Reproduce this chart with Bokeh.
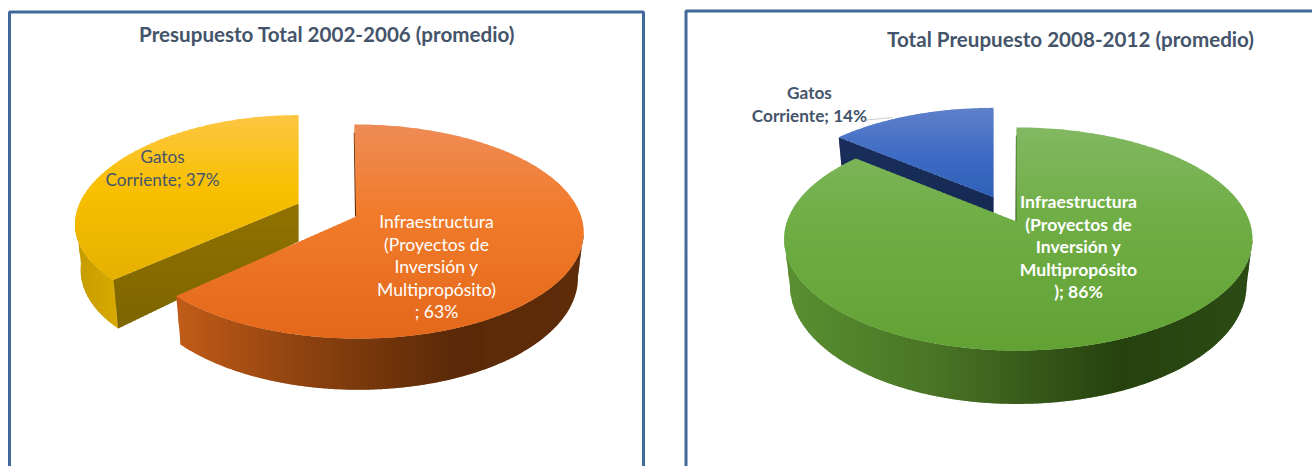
import math

from bokeh.core.properties import value
from bokeh.embed import file_html
from bokeh.models import ColumnDataSource, Range1d
from bokeh.plotting import figure
from bokeh.resources import INLINE

# Budget shares, in percent, for the two periods
titles = ["Presupuesto Total 2002-2006 (promedio)", "Total Preupuesto 2008-2012 (promedio)"]
infra_shares = [63, 86]
current_shares = [37, 14]
current_names = ["Gatos", "Gatos"]
infra_lines = [
    ["Infraestructura", "(Proyectos de", "Inversión y", "Multipropósito)", "; {}%"],
    ["Infraestructura", "(Proyectos de", "Inversión y", "Multipropósito", "); {}%"],
]

TEXT = "#44546a"
FRAME = "#41699b"
FONT = "Lato"

# Pie layout, in page pixels: apex of each slice, radii, perspective, depth
pies = [
    dict(
        infra=dict(ax=355.6, ay=216, rx=225, ry=105, p=0.14, px=0.14, left=1, sy=1, lean=-2),
        current=dict(ax=298, ay=203, rx=219, ry=105, p=0.14, px=0.2, left=1, sy=0.96, lean=0),
        depth=44, apex_depth=38, taper=0.975,
        infra_top=[(0, "#ee8c56"), (0.4, "#f17c2c"), (1, "#e4681a")],
        infra_wall=[(176, "#c25c18"), (300, "#8f4310"), (450, "#5c2a08"), (583, "#5f2c0a")],
        infra_face="#5c2a08",
        current_top=[(0, "#fdc644"), (0.45, "#f8c000"), (1, "#e6b000")],
        current_wall=[(75, "#c49a00"), (116, "#d8aa00")],
        current_face=[(0, "#907200"), (1, "#7e6500")],
    ),
    dict(
        infra=dict(ax=1016, ay=221, rx=233, ry=108.8, p=0.157, px=0.157, left=0.985, sy=1, lean=0),
        current=dict(ax=993, ay=196.7, rx=221, ry=108.8, p=0.157, px=0.157, left=1, sy=0.95, lean=0),
        depth=45, apex_depth=38, taper=0.975,
        infra_top=[(0, "#82b862"), (0.4, "#70ae46"), (1, "#62a234")],
        infra_wall=[(784, "#5a9032"), (930, "#4a7526"), (1120, "#26420f"), (1252, "#2c4c14")],
        infra_face="#2c4c14",
        current_top=[(0, "#5f80ca"), (0.55, "#3d6bc4"), (1, "#3060b6")],
        current_wall=[(837, "#182c58"), (994, "#182c58")],
        current_face=[(0, "#1a2f5c"), (1, "#152853")],
    ),
]

# Label anchors: centre x, first-line y, line step
title_pos = [(326.5, 33), (1070, 38)]
current_label_pos = [(162, 156, 23), (809, 92, 23)]
infra_label_pos = [(436, 221, 22.5), (1078, 201, 22.5)]
label_weight = ["normal", "bold"]
frames = [([9, 9, 643, 643], [466, 11.5, 11.5, 466]), ([685.5, 685.5, 1312], [466, 10.5, 10.5])]


def hex_rgb(c):
    return tuple(int(c[i:i + 2], 16) for i in (1, 3, 5))


def ramp(stops, t):
    if t <= stops[0][0]:
        return stops[0][1]
    for (t0, c0), (t1, c1) in zip(stops, stops[1:]):
        if t <= t1:
            f = (t - t0) / (t1 - t0)
            a, b = hex_rgb(c0), hex_rgb(c1)
            return "#%02x%02x%02x" % tuple(round(x + (y - x) * f) for x, y in zip(a, b))
    return stops[-1][1]


def rim(g, theta):
    u, v = math.sin(theta), math.cos(theta)
    kx = 1 / (1 + g["px"] * v)
    ky = 1 / (1 + g["p"] * v)
    side = g["left"] if u < 0 else 1
    return g["ax"] + g["rx"] * side * u * kx + g["lean"] * v * kx, g["ay"] - g["ry"] * g["sy"] * v * ky


def rim_low(g, theta, depth, taper):
    x, y = rim(g, theta)
    k = 1 / (1 + g["p"] * math.cos(theta))
    return g["ax"] + (x - g["ax"]) * taper, y + depth * k


def clip(poly, axis, limit, keep_above):
    out = []
    inside = (lambda q: q[axis] >= limit) if keep_above else (lambda q: q[axis] <= limit)
    for a, b in zip(poly, poly[1:] + poly[:1]):
        if inside(a):
            out.append(a)
        if inside(a) != inside(b):
            f = (limit - a[axis]) / (b[axis] - a[axis])
            out.append(tuple(a[j] + (b[j] - a[j]) * f for j in (0, 1)))
    return out


def draw_polys(fig, polys, colors):
    src = ColumnDataSource(dict(
        xs=[[q[0] for q in s] for s in polys],
        ys=[[q[1] for q in s] for s in polys],
        c=colors,
    ))
    fig.patches("xs", "ys", source=src, fill_color="c", line_color=None)


def banded_fill(fig, poly, axis, color_at):
    # Paints a polygon as overlapping strips along one axis to give a smooth gradient
    vals = [q[axis] for q in poly]
    lo, hi = min(vals), max(vals)
    bands, colors = [], []
    c = lo
    while c < hi:
        part = clip(clip(poly, axis, c, True), axis, min(c + 3, hi), False)
        if len(part) >= 3:
            bands.append(part)
            colors.append(color_at(c + 1, lo, hi))
        c += 2
    draw_polys(fig, bands, colors)


def vertical_fill(fig, poly, stops):
    banded_fill(fig, poly, 1, lambda c, lo, hi: ramp(stops, (c - lo) / (hi - lo)))


def sector(g, a0, a1, n=180):
    pts = [rim(g, a0 + (a1 - a0) * i / n) for i in range(n + 1)]
    return [(g["ax"], g["ay"])] + pts


def draw_wall(fig, g, a0, a1, depth, taper, stops, n=240):
    # The wall runs between the rim's silhouette points, where it turns away from the viewer
    angles = [a0 + (a1 - a0) * i / n for i in range(n + 1)]
    angles = [t for t in angles if math.cos(t) <= -g["p"]]
    upper = [rim(g, t) for t in angles]
    lower = [rim_low(g, t, depth, taper) for t in angles]
    banded_fill(fig, upper + lower[::-1], 0, lambda c, lo, hi: ramp(stops, c))


def text_block(fig, x, y, step, lines, color, weight, size):
    src = ColumnDataSource(dict(
        x=[x] * len(lines), y=[y + step * i for i in range(len(lines))], t=lines,
    ))
    fig.text("x", "y", text="t", source=src, text_color=color, text_align="center",
             text_baseline="middle", text_font=value(FONT), text_font_size=size,
             text_font_style=weight)


p = figure(width=1312, height=466, output_backend="svg", toolbar_location=None,
           x_range=Range1d(0, 1312), y_range=Range1d(466, 0), min_border=0,
           background_fill_color="white", outline_line_color=None)
p.axis.visible = False
p.grid.visible = False

for fx, fy in frames:
    p.line(fx, fy, line_color=FRAME, line_width=3)

for i, pie in enumerate(pies):
    g_i, g_c = pie["infra"], pie["current"]
    split = 2 * math.pi * infra_shares[i] / (infra_shares[i] + current_shares[i])
    depth, apex_depth, taper = pie["depth"], pie["apex_depth"], pie["taper"]

    # Detached slice: wall, cut face, then its top
    if math.cos(split) <= -g_c["p"]:
        draw_wall(p, g_c, split, 2 * math.pi, depth, taper, pie["current_wall"])
    corner = rim(g_c, split)
    corner_low = rim_low(g_c, split, depth, taper)
    face = [(g_c["ax"], g_c["ay"]), corner, corner_low, (g_c["ax"], g_c["ay"] + apex_depth)]
    vertical_fill(p, face, pie["current_face"])
    vertical_fill(p, sector(g_c, split, 2 * math.pi), pie["current_top"])

    # Main slice: sliver of its back face, wall, then its top
    back = rim(g_i, 0)
    p.line([back[0] + 0.2, g_i["ax"] - 0.3], [back[1] + 8, g_i["ay"]],
           line_color=pie["infra_face"], line_width=1.6)
    draw_wall(p, g_i, 0, split, depth, taper, pie["infra_wall"])
    vertical_fill(p, sector(g_i, 0, split), pie["infra_top"])

# Leader from the small slice to its label
p.line([866, 892], [119.5, 117], line_color="#c8ccd4", line_width=1)

for i in range(2):
    tx, ty = title_pos[i]
    text_block(p, tx, ty, 0, [titles[i]], TEXT, "bold", "20.6px")
    x, y, step = current_label_pos[i]
    text_block(p, x, y, step, [current_names[i], f"Corriente; {current_shares[i]}%"],
               TEXT, label_weight[i], "17.2px")
    x, y, step = infra_label_pos[i]
    lines = [s.format(infra_shares[i]) for s in infra_lines[i]]
    text_block(p, x, y, step, lines, "white", label_weight[i], "17.6px")

open("out.html", "w").write(file_html(p, INLINE))
